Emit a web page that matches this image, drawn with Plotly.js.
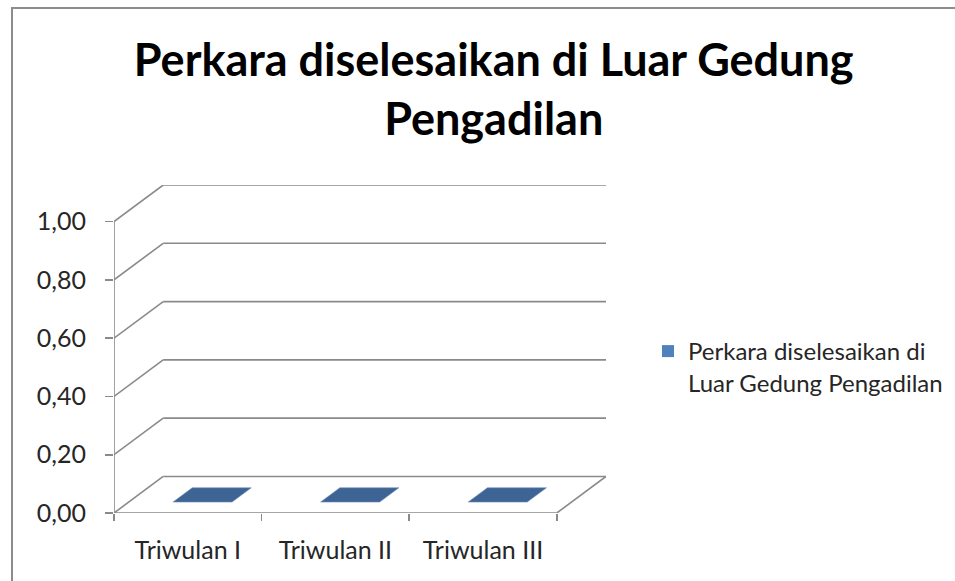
<!DOCTYPE html>
<html>
<head>
<meta charset="utf-8">
<script src="https://cdn.plot.ly/plotly-3.0.1.min.js"></script>
<style>
  html, body { margin: 0; padding: 0; background: #fff; }
  #wrap { position: relative; width: 955px; height: 581px; overflow: hidden; }
  #chart { position: absolute; left: 0; top: 0; width: 955px; height: 581px; }
  #frame { position: absolute; left: 11px; top: 7px; width: 960px; height: 600px;
           border-left: 2.5px solid #8c8c8c; border-top: 2.5px solid #8c8c8c; pointer-events: none; }
</style>
</head>
<body>
<div id="wrap"><div id="chart"></div><div id="frame"></div></div>
<script>
// ---- data ----
var categories = ["Triwulan I", "Triwulan II", "Triwulan III"];
var values = [0, 0, 0];
var seriesName = "Perkara diselesaikan di<br>Luar Gedung Pengadilan";
var yTicks = [0, 0.2, 0.4, 0.6, 0.8, 1.0];
var chartTitle = "Perkara diselesaikan di Luar Gedung<br>Pengadilan";

// ---- pseudo-3D projection constants (style) ----
var dx = 1 / 3;      // depth shift along x (category units)
var dy = 0.1254;     // depth shift along y (value units)
var barW = 0.4, z0 = 0.30, z1 = 0.69;
var lineCol = "#8a8a8a";
var fontFam = "Lato, 'Open Sans', sans-serif";
var txtSize = 25;

var xmin = -0.5, xmax = categories.length - 0.5;
var ymax = yTicks[yTicks.length - 1];

// wall / floor frame lines
var gx = [], gy = [];
function seg(x1, y1, x2, y2) { gx.push(x1, x2, null); gy.push(y1, y2, null); }
yTicks.forEach(function (t) {
  seg(xmin + dx, t + dy, xmax + dx, t + dy);   // back wall gridline
  seg(xmin, t, xmin + dx, t + dy);             // side wall diagonal
});
seg(xmin, 0, xmax, 0);                          // floor front edge
seg(xmax, 0, xmax + dx, dy);                    // floor right edge
seg(xmin, 0, xmin, ymax);                       // front value axis line

var traces = [{
  type: "scatter", mode: "lines", x: gx, y: gy, xaxis: "x", yaxis: "y",
  line: { color: lineCol, width: 1.6 }, hoverinfo: "skip", showlegend: false
}];

// the bars, projected as 3D boxes
values.forEach(function (v, i) {
  var xl = i - barW / 2, xr = i + barW / 2;
  if (v > 0) {
    traces.push({
      type: "scatter", mode: "lines", fill: "toself", showlegend: false, hoverinfo: "skip",
      x: [xl + z0 * dx, xr + z0 * dx, xr + z0 * dx, xl + z0 * dx, xl + z0 * dx],
      y: [z0 * dy, z0 * dy, v + z0 * dy, v + z0 * dy, z0 * dy],
      fillcolor: "#4f81bd", line: { color: "#4f81bd", width: 0.5 }
    });
    traces.push({
      type: "scatter", mode: "lines", fill: "toself", showlegend: false, hoverinfo: "skip",
      x: [xr + z0 * dx, xr + z1 * dx, xr + z1 * dx, xr + z0 * dx, xr + z0 * dx],
      y: [z0 * dy, z1 * dy, v + z1 * dy, v + z0 * dy, z0 * dy],
      fillcolor: "#385d8a", line: { color: "#385d8a", width: 0.5 }
    });
  }
  // top face
  traces.push({
    type: "scatter", mode: "lines", fill: "toself", showlegend: false, hoverinfo: "skip",
    x: [xl + z0 * dx, xr + z0 * dx, xr + z1 * dx, xl + z1 * dx, xl + z0 * dx],
    y: [v + z0 * dy, v + z0 * dy, v + z1 * dy, v + z1 * dy, v + z0 * dy],
    fillcolor: "#3d6494", line: { color: "#6f8fb8", width: 0.6 }
  });
});

// legend entry (series itself, on the front plane)
traces.push({
  type: "bar", x: [0, 1, 2], y: values, name: seriesName, xaxis: "x", yaxis: "y",
  marker: { color: "#4f81bd", line: { width: 0 } }, hoverinfo: "skip", showlegend: true
});

// invisible trace on xaxis2 so its labels show
traces.push({ type: "scatter", mode: "markers", x: [0], y: [0], xaxis: "x2", yaxis: "y",
  marker: { opacity: 0 }, hoverinfo: "skip", showlegend: false });

var layout = {
  width: 955, height: 581,
  margin: { l: 114, r: 349, t: 185, b: 68, pad: 0 },
  paper_bgcolor: "#ffffff", plot_bgcolor: "rgba(0,0,0,0)",
  font: { family: fontFam, color: "#262626", size: txtSize },
  title: {
    text: chartTitle, xref: "container", yref: "container",
    x: 0.517, xanchor: "center", y: 1 - 76 / 581, yanchor: "top",
    font: { family: fontFam, size: 45, color: "#000", weight: "bold" }
  },
  xaxis: {
    range: [xmin, xmax + dx], showgrid: false, zeroline: false, showline: false,
    tickmode: "array", tickvals: [-0.5, 0.5, 1.5, 2.5], ticktext: ["", "", "", ""],
    ticks: "outside", ticklen: 7, tickwidth: 1.6, tickcolor: lineCol, fixedrange: true
  },
  xaxis2: {
    overlaying: "x", anchor: "y", side: "bottom", matches: "x",
    range: [xmin, xmax + dx], showgrid: false, zeroline: false, showline: false,
    tickmode: "array", tickvals: [0, 1, 2], ticktext: categories, ticks: "",
    ticklabelstandoff: 20, tickfont: { size: txtSize, color: "#262626" }
  },
  yaxis: {
    range: [0, ymax + dy], showgrid: false, zeroline: false, showline: false,
    tickmode: "array", tickvals: yTicks, tickformat: ".2f",
    ticks: "outside", ticklen: 8, tickwidth: 1.6, tickcolor: lineCol,
    ticklabelstandoff: 14, tickfont: { size: txtSize, color: "#262626" }
  },
  separators: ",.",
  showlegend: true,
  legend: {
    xref: "container", yref: "container", x: 648 / 955, y: 1 - 329 / 581,
    xanchor: "left", yanchor: "top", valign: "top",
    font: { size: 24, color: "#262626", family: fontFam },
    bgcolor: "rgba(0,0,0,0)", itemwidth: 30
  },
  barmode: "overlay", bargap: 0.6
};

Plotly.newPlot("chart", traces, layout, { displayModeBar: false, staticPlot: true });
</script>
</body>
</html>
